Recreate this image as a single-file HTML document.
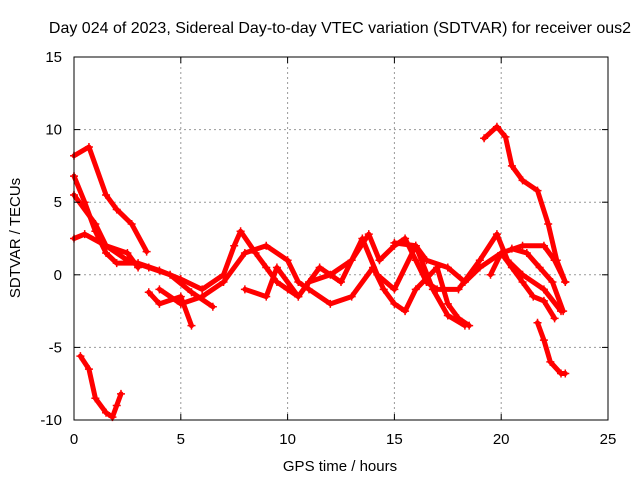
<!DOCTYPE html>
<html><head><meta charset="utf-8"><style>
body{margin:0;background:#fff}
svg text{font-family:"Liberation Sans",sans-serif;font-size:15px;fill:#000}
</style></head><body>
<svg width="640" height="480">
<g id="grid"></g>
<g id="series"></g>
<rect x="74" y="57" width="534" height="363" fill="none" stroke="#000" stroke-width="1"/>
<g id="ticks"></g>
<text x="340" y="33" text-anchor="middle" style="font-size:16px">Day 024 of 2023, Sidereal Day-to-day VTEC variation (SDTVAR) for receiver ous2</text>
<text x="340" y="471" text-anchor="middle">GPS time / hours</text>
<text x="0" y="0" text-anchor="middle" transform="translate(20,238) rotate(-90)">SDTVAR / TECUs</text>
</svg>
<script>
const xTicks=[0,5,10,15,20,25];
const yTicks=[-10,-5,0,5,10,15];
const tracks=[
[[0,8.2],[0.7,8.8],[1.5,5.5],[2,4.5],[2.7,3.5],[3.4,1.6]],
[[0,6.8],[0.5,5],[1,3],[1.5,1.5],[2,0.8],[3,0.8],[4,0.3],[5,-0.3],[6,-1],[7,0],[7.5,2],[7.8,3],[8.5,1.5],[9,0.5],[9.5,-0.5],[10,-1],[10.5,-1.5],[11,-0.5],[12,0],[13,1],[13.8,2.8],[14.3,1],[15,2],[15.5,2.5],[16,1],[16.5,-0.5],[17,-1],[18,-1],[19,1],[19.8,2.8],[20.3,1],[21,0],[22,-1],[22.8,-2.5]],
[[0,5.5],[1,3.5],[1.5,2],[2.5,1],[3.5,0.5],[4.5,0],[5.5,-1.2],[6.5,-2.2]],
[[0,2.5],[0.5,2.8],[1.5,2],[2.5,1.5],[3,0.5]],
[[3.5,-1.2],[4,-2],[5,-1.5],[5.5,-3.5]],
[[4,-1],[5,-2],[6,-1.5],[7,-0.5],[8,1.5],[9,2],[10,1],[10.5,-0.5],[11,-1],[12,-2],[13,-1.5],[14,0.5],[14.5,-1],[15,-2],[15.5,-2.5],[16,-1],[17,0.5],[17.5,-2],[18,-3],[18.5,-3.5]],
[[8,-1],[9,-1.5],[9.5,0.5],[10.5,-1.5],[11.5,0.5],[12.5,-0.5],[13.5,2.5],[14.2,0],[15,-1],[16,2],[16.5,1],[17.5,0.5],[18.3,-0.5],[19,0.5],[20,1.5],[21,2],[22,2],[22.5,1],[23,-0.5]],
[[15,2.2],[16,2],[16.8,-1],[17.5,-2.8],[18.3,-3.5]],
[[19.2,9.4],[19.8,10.2],[20.2,9.5],[20.5,7.5],[21,6.5],[21.7,5.8],[22.2,3.5],[22.6,1],[23,-0.5]],
[[19.5,0],[20,1.5],[20.5,0.5],[21,-0.5],[21.5,-1.5],[22,-1.8],[22.5,-3]],
[[20.5,1.8],[21.2,1.5],[21.8,0.5],[22.4,-0.5],[22.9,-2.5]],
[[21.7,-3.3],[22,-4.5],[22.3,-6],[22.8,-6.8],[23,-6.8]],
[[0.3,-5.6],[0.7,-6.5],[1,-8.5],[1.5,-9.5],[1.8,-9.8],[2,-9],[2.2,-8.2]]
];
const X0=74,X1=608,Y0=420,Y1=57;
const sx=v=>X0+(v-0)/25*(X1-X0);
const sy=v=>Y0-(v+10)/25*(Y0-Y1);
const NS="http://www.w3.org/2000/svg";
const grid=document.getElementById('grid'),ticks=document.getElementById('ticks'),ser=document.getElementById('series');
function mk(t,a,p){const e=document.createElementNS(NS,t);for(const k in a)e.setAttribute(k,a[k]);p.appendChild(e);return e;}
xTicks.forEach(v=>{
 const x=sx(v);
 if(v>0&&v<25){const g=mk('line',{x1:x,x2:x,y1:Y1,y2:Y0,stroke:'#999','stroke-dasharray':'2,3'},grid);
 
 }
 mk('line',{x1:x,x2:x,y1:Y0,y2:Y0-6,stroke:'#000'},ticks);
 mk('line',{x1:x,x2:x,y1:Y1,y2:Y1+6,stroke:'#000'},ticks);
 const t=mk('text',{x:x,y:Y0+24,'text-anchor':'middle'},ticks);t.textContent=v;
 
 
});
yTicks.forEach(v=>{
 const y=sy(v);
 if(v>-10&&v<15){const g=mk('line',{x1:X0,x2:X1,y1:y,y2:y,stroke:'#999','stroke-dasharray':'2,3'},grid);
 
 }
 mk('line',{x1:X0,x2:X0+6,y1:y,y2:y,stroke:'#000'},ticks);
 mk('line',{x1:X1,x2:X1-6,y1:y,y2:y,stroke:'#000'},ticks);
 const t=mk('text',{x:X0-12,y:y+5,'text-anchor':'end'},ticks);t.textContent=v;
 
 
});
tracks.forEach(tr=>{
 const pl=mk('polyline',{points:tr.map(p=>sx(p[0])+','+sy(p[1])).join(' '),fill:'none',stroke:'#f00','stroke-width':5,'stroke-linejoin':'round','stroke-linecap':'round'},ser);
 
 
 tr.forEach(p=>{
  const x=sx(p[0]),y=sy(p[1]);
  mk('path',{d:`M${x-4},${y}H${x+4}M${x},${y-4}V${y+4}`,stroke:'#f00','stroke-width':1.5},ser);
 });
});
</script>
</body></html>
